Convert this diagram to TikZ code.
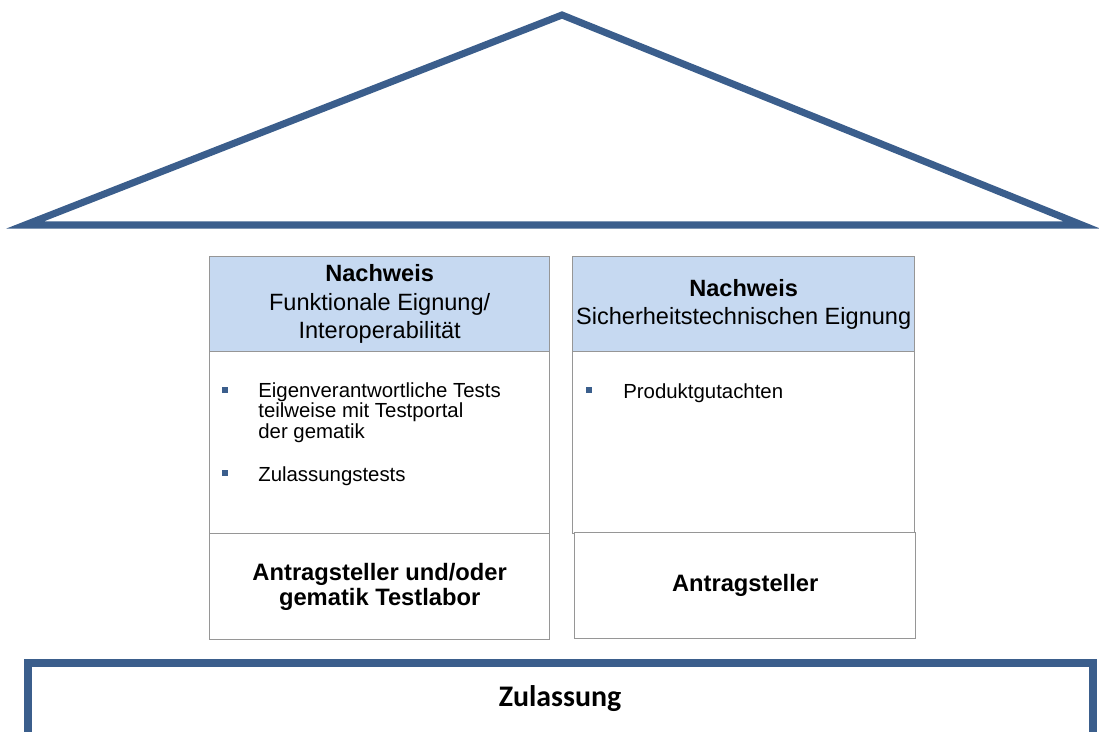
\documentclass[tikz,border=0pt]{standalone}
\usepackage{fontspec}
\setmainfont{Liberation Sans}
\newfontfamily\carlito{Carlito}
\usepackage{tikz}
\usepackage{xcolor}
\usetikzlibrary{positioning}
\definecolor{roofblue}{RGB}{59,94,140}
\definecolor{headblue}{RGB}{198,217,241}
\definecolor{cellgray}{RGB}{150,150,150}

\begin{document}
\begin{tikzpicture}[x=0.02cm, y=-0.02cm,
    cell/.style={draw=cellgray, line width=0.8pt, rectangle, anchor=north west, inner sep=0pt, align=center},
    head/.style={cell, fill=headblue, minimum height=1.9cm, font=\fontsize{13.4}{16.2}\selectfont},
    body/.style={cell, fill=white, minimum height=3.64cm},
    owner/.style={cell, fill=white, minimum height=2.12cm, font=\bfseries\fontsize{13.5}{14.5}\selectfont},
    bullet/.style={fill=roofblue, rectangle, inner sep=0pt, minimum size=0.11cm},
    item/.style={anchor=base west, align=left, inner sep=0pt, font=\fontsize{11.6}{11.4}\selectfont}]
    \useasboundingbox (0,0) rectangle (1099,731);

    % Roof on top
    \coordinate (roofL) at (25,225);
    \coordinate (roofT) at (562,15);
    \coordinate (roofR) at (1082,225);
    \draw[roofblue, line width=4pt, line join=miter] (roofL) -- (roofT) -- (roofR) -- cycle;

    % Left column: functional fitness
    \node[head, minimum width=6.8cm] (headF) at (209,256) {\textbf{Nachweis}\\Funktionale Eignung/\\Interoperabilität};
    \node[body, minimum width=6.8cm] (bodyF) at (209,351) {};
    \node[owner, minimum width=6.8cm] (ownerF) at (209,533) {Antragsteller und/oder\\gematik Testlabor};

    % Right column: security fitness
    \node[head, minimum width=6.84cm] (headS) at (572,256) {\textbf{Nachweis}\\Sicherheitstechnischen Eignung};
    \node[body, minimum width=6.84cm] (bodyS) at (572,351) {};
    \node[owner, minimum width=6.82cm] (ownerS) at (574,532) {Antragsteller};

    % Bullet items
    \node[bullet] (b1) at (225,390) {};
    \node[item] (tests) at (258,438) {Eigenverantwortliche Tests\\teilweise mit Testportal\\der gematik};
    \node[bullet] (b2) at (225,473) {};
    \node[item] (zultests) at (258,481) {Zulassungstests};
    \node[bullet] (b3) at (589,390) {};
    \node[item] (gutachten) at (623,398) {Produktgutachten};

    % Foundation
    \draw[roofblue, line width=4pt, line join=miter] (28,745) -- (28,663) -- (1093,663) -- (1093,745);
    \node[font=\carlito\bfseries\fontsize{17}{19}\selectfont] (zul) at (560,699) {Zulassung};
\end{tikzpicture}
\end{document}
